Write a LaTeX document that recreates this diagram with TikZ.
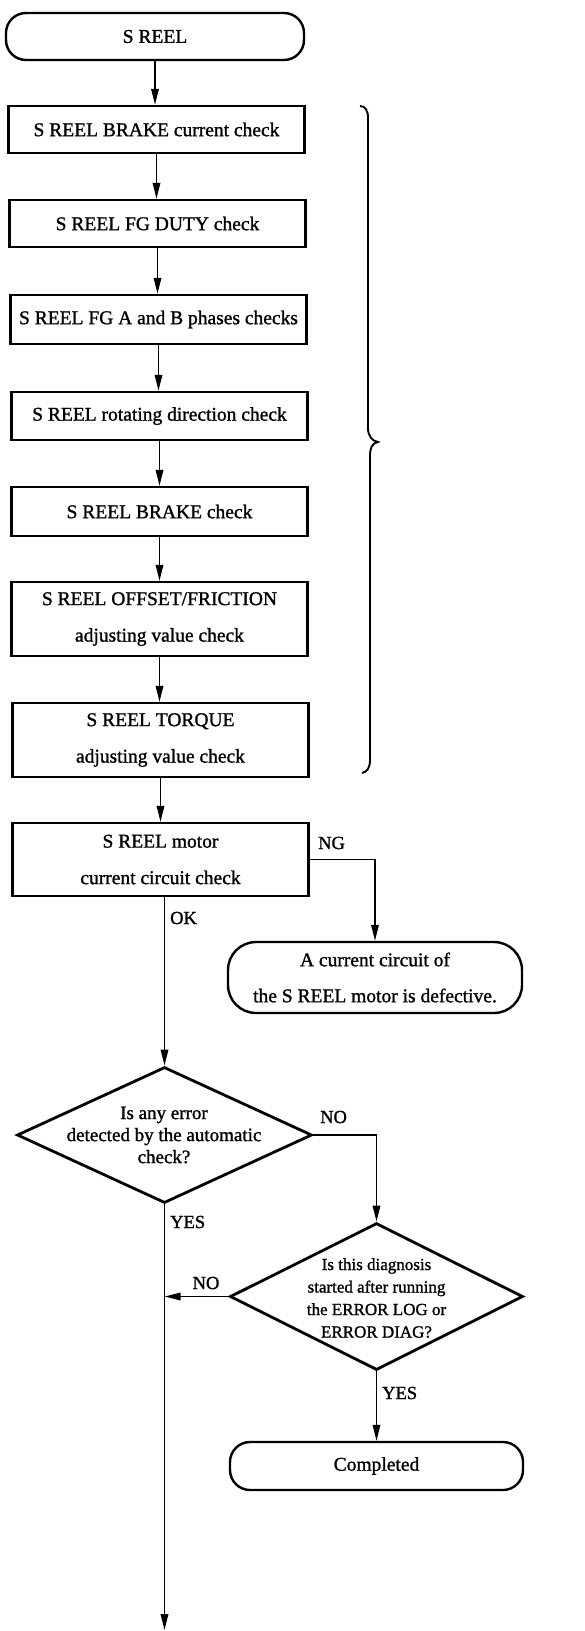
\documentclass[tikz,border=0pt]{standalone}
\usepackage{fontspec}
\setmainfont{Liberation Serif}
\newfontfamily\heavy{Liberation Serif}[FakeBold=1.2]
\usetikzlibrary{shapes.geometric,arrows.meta}
\begin{document}
\begin{tikzpicture}[x=1pt,y=-1pt,
  proc/.style={draw, line width=2.4pt, minimum width=296pt, inner sep=0pt, align=center, font=\heavy\fontsize{19.5}{36.5}\selectfont},
  proc1/.style={proc, minimum height=47pt},
  proc2/.style={proc, minimum height=74pt},
  term/.style={draw, line width=2.4pt, rounded corners=20pt, minimum width=298pt, minimum height=47pt, inner sep=0pt, align=center, font=\heavy\fontsize{19.5}{36}\selectfont},
  decision/.style={draw, diamond, line width=2.8pt, inner sep=0pt},
  dtext/.style={align=center, inner sep=0pt},
  lbl/.style={font=\heavy\fontsize{18.5}{20}\selectfont, inner sep=0pt},
  arr/.style={line width=1.7pt, -{Triangle[length=16pt,width=7.5pt]}},
  ln/.style={line width=1.7pt}
]
\useasboundingbox (0,0) rectangle (584,1631);

\node[term] (s) at (155,36.5) {S REEL};
\node[proc1] (b1) at (156.5,129.5) {S REEL BRAKE current check};
\node[proc1] (b2) at (157.5,223.5) {S REEL FG DUTY check};
\node[proc1, minimum height=49pt] (b3) at (158.5,319.5) {S REEL FG A and B phases checks};
\node[proc1, minimum height=48pt] (b4) at (159.5,416) {S REEL rotating direction check};
\node[proc1, minimum height=49pt] (b5) at (159.5,511.5) {S REEL BRAKE check};
\node[proc2] (b6) at (159.5,619) {S REEL OFFSET/FRICTION\\adjusting value check};
\node[proc2] (b7) at (160.5,740) {S REEL TORQUE\\adjusting value check};
\node[proc2, minimum height=73pt] (b8) at (160.5,859.5) {S REEL motor\\current circuit check};
\node[term, minimum width=294pt, minimum height=71pt, rounded corners=28pt] (t2) at (375,977.5) {A current circuit of\\the S REEL motor is defective.};
\node[decision, minimum width=295pt, minimum height=136pt] (d1) at (164.5,1135) {};
\node[dtext, font=\heavy\fontsize{19}{22}\selectfont] (d1t) at (164,1135) {Is any error\\detected by the automatic\\check?};
\node[decision, minimum width=293pt, minimum height=147pt] (d2) at (376.5,1296.5) {};
\node[dtext, font=\heavy\fontsize{17}{22.5}\selectfont] (d2t) at (376.5,1298) {Is this diagnosis\\started after running\\the ERROR LOG or\\ERROR DIAG?};
\node[term, minimum width=293pt, minimum height=48pt] (t3) at (376.5,1466) {Completed};
\coordinate (fin) at (165,1630);

\foreach \a/\b in {s/b1,b1/b2,b2/b3,b3/b4,b4/b5,b5/b6,b6/b7,b7/b8}
  \draw[arr] (\a.south) -- (\a.south |- \b.north);
\draw[arr] (d1.north |- b8.south) -- (d1.north);
\draw[arr] (b8.east) -| (t2.north);
\draw[arr] (d1.east) -| (d2.north);
\draw[arr] (d1.south) -- (d1.south |- fin);
\draw[arr] (d2.west) -- (d2.west -| d1.south);
\draw[arr] (d2.south) -- (t3.north);

\node[lbl, anchor=west] (ng) at (318,843) {NG};
\node[lbl, anchor=west] (ok) at (170,918) {OK};
\node[lbl, anchor=west] (no1) at (320,1117) {NO};
\node[lbl, anchor=west] (yes1) at (170,1222) {YES};
\node[lbl] (no2) at (206,1283) {NO};
\node[lbl, anchor=west] (yes2) at (382,1393) {YES};

\draw[line width=1.9pt] (360,106) .. controls (365,106) and (368,110) .. (368,118) -- (368,428) .. controls (368,436) and (372,441) .. (378,442) .. controls (372,443) and (370,448) .. (370,456) -- (370,760) .. controls (370,768) and (367,772) .. (362,773);
\end{tikzpicture}
\end{document}
